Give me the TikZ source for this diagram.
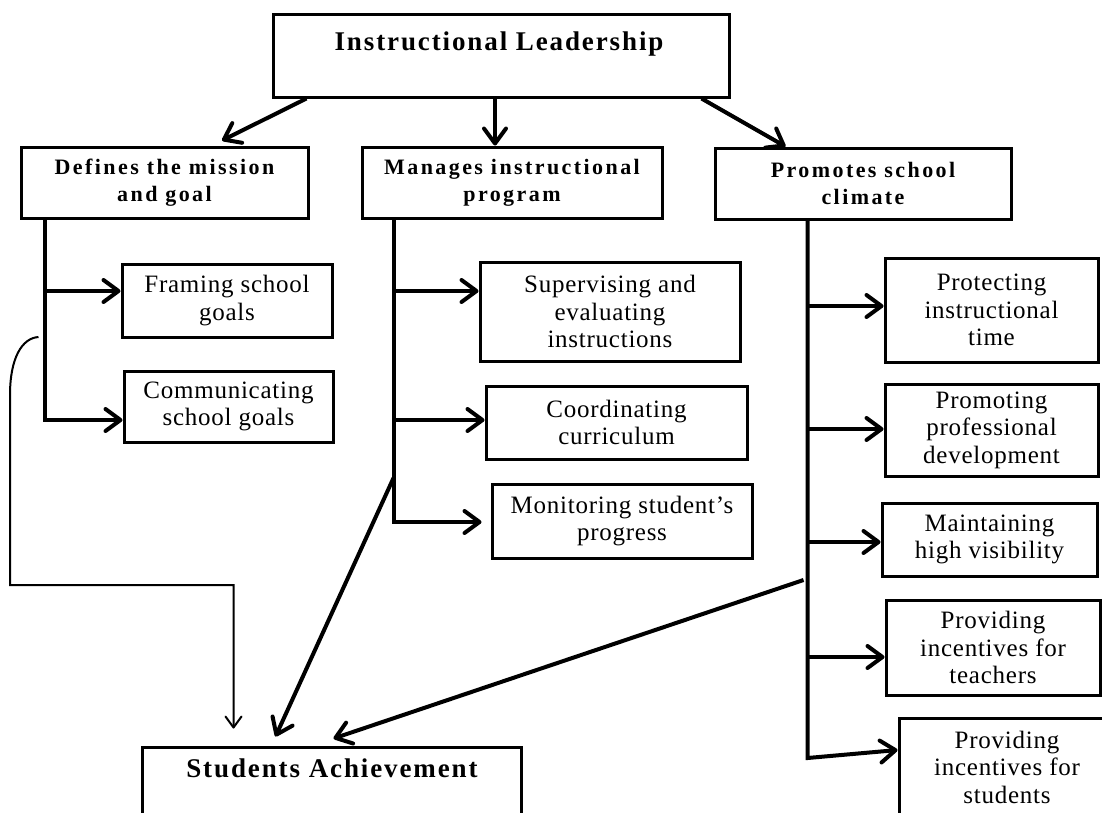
\documentclass[tikz,border=0pt]{standalone}
\usepackage{fontspec}
\setmainfont{Liberation Serif}
\newfontfamily\regfont{Liberation Serif}[LetterSpace=3]
\newfontfamily\hdfont{Liberation Serif}[LetterSpace=11]
\newfontfamily\ttlfont{Liberation Serif}[LetterSpace=7]
\newfontfamily\achfont{Liberation Serif}[LetterSpace=7]
\usetikzlibrary{arrows.meta,calc}
\begin{document}
\begin{tikzpicture}[x=1pt,y=-1pt,
  box/.style={draw, line width=3pt, inner sep=0pt, align=center, fill=white},
  reg/.style={box, font=\regfont\fontsize{25}{27.5}\selectfont},
  hd/.style={box, font=\hdfont\bfseries\fontsize{22}{27}\selectfont},
  ttl/.style={font=\ttlfont\bfseries\fontsize{27}{30}\selectfont, inner sep=0pt},
  achtxt/.style={font=\achfont\bfseries\fontsize{27}{30}\selectfont, inner sep=0pt},
  conn/.style={line width=4pt, -{Straight Barb[length=15pt,width=22pt,round]}},
  thinconn/.style={line width=2pt, -{Straight Barb[length=11pt,width=16pt,round]}}]
\useasboundingbox (0,0) rectangle (1102,812);
\clip (0,0) rectangle (1102,812);

% boxes
\node[box, minimum width=456, minimum height=83] (top) at (501,55.5) {};
\node[ttl, anchor=base] (ttlt) at ($(top.north)+(-2,38)$) {Instructional Leadership};

\node[hd, minimum width=287, minimum height=71] (def) at (164.5,182.5) {Defines the mission\\and goal};
\node[hd, minimum width=300, minimum height=71] (man) at (512,182.5) {Manages instructional\\program};
\node[hd, minimum width=296, minimum height=71] (pro) at (863,183.5) {Promotes school\\climate};

\node[reg, minimum width=210, minimum height=73] (frm) at (227,300.5) {Framing school\\goals};
\node[reg, minimum width=209, minimum height=71] (com) at (228.5,406.5) {Communicating\\school goals};

\node[reg, minimum width=260, minimum height=99] (sup) at (610,311.5) {Supervising and\\evaluating\\instructions};
\node[reg, minimum width=261, minimum height=73] (coo) at (616.5,422.5) {Coordinating\\curriculum};
\node[reg, minimum width=260, minimum height=74] (mon) at (622,521) {Monitoring student’s\\progress};

\node[reg, minimum width=213, minimum height=104] (prt) at (991.5,310) {Protecting\\instructional\\time};
\node[reg, minimum width=213, minimum height=92] (prm) at (991.5,430) {Promoting\\professional\\development};
\node[reg, minimum width=215, minimum height=73] (mnt) at (989.5,539.5) {Maintaining\\high visibility};
\node[reg, minimum width=214, minimum height=95] (tch) at (993,647.5) {Providing\\incentives for\\teachers};
\node[reg, minimum width=216, minimum height=98] (stu) at (1007,767) {Providing\\incentives for\\students};

\node[box, minimum width=379, minimum height=83] (ach) at (331.5,788.5) {};
\node[achtxt, anchor=base] (acht) at ($(ach.north)+(0.5,32)$) {Students Achievement};

% arrows from the top box
\draw[conn] ($(top.south west)+(35,0)$) -- ($(def.north)+(57.5,-5)$);
\coordinate (tm) at ($(top.south)+(-6,0)$);
\draw[conn] (tm) -- (tm |- man.north);
\draw[conn] ($(top.south east)+(-29,0)$) -- ($(pro.north west)+(72,0)$);

% defines branch
\coordinate (dT) at ($(def.south west)+(25,0)$);
\draw[conn] (dT) |- (com.west |- 0,420);
\draw[conn] (dT |- 0,291) -- (frm.west |- 0,291);

% manages branch
\coordinate (mT) at ($(man.south west)+(33,0)$);
\draw[conn] (mT) |- ($(mon.west |- 0,522)+(-9,0)$);
\draw[conn] (mT |- 0,291) -- (sup.west |- 0,291);
\draw[conn] (mT |- 0,420) -- (coo.west |- 0,420);

% promotes branch
\coordinate (pT) at ($(pro.south west)+(94,0)$);
\draw[conn] (pT) -- (pT |- 0,758) -- (stu.west |- 0,750);
\draw[conn] (pT |- 0,306) -- (prt.west |- 0,306);
\draw[conn] (pT |- 0,429) -- (prm.west |- 0,429);
\draw[conn] (pT |- 0,542) -- (mnt.west |- 0,542);
\draw[conn] (pT |- 0,657) -- (tch.west |- 0,657);

% links to students achievement
\draw[conn] (mT |- 0,478) -- ($(ach.north west)+(135,-9)$);
\draw[conn] ($(pT |- 0,580)+(-4,0)$) -- ($(ach.north west)+(193,-7)$);
\draw[thinconn] ($(dT |- 0,337)+(-6,0)$) .. controls (22,338) and (10,358) .. (10,395) -- (10,585) -| ($(ach.north west)+(93,-17)$);
\end{tikzpicture}
\end{document}
